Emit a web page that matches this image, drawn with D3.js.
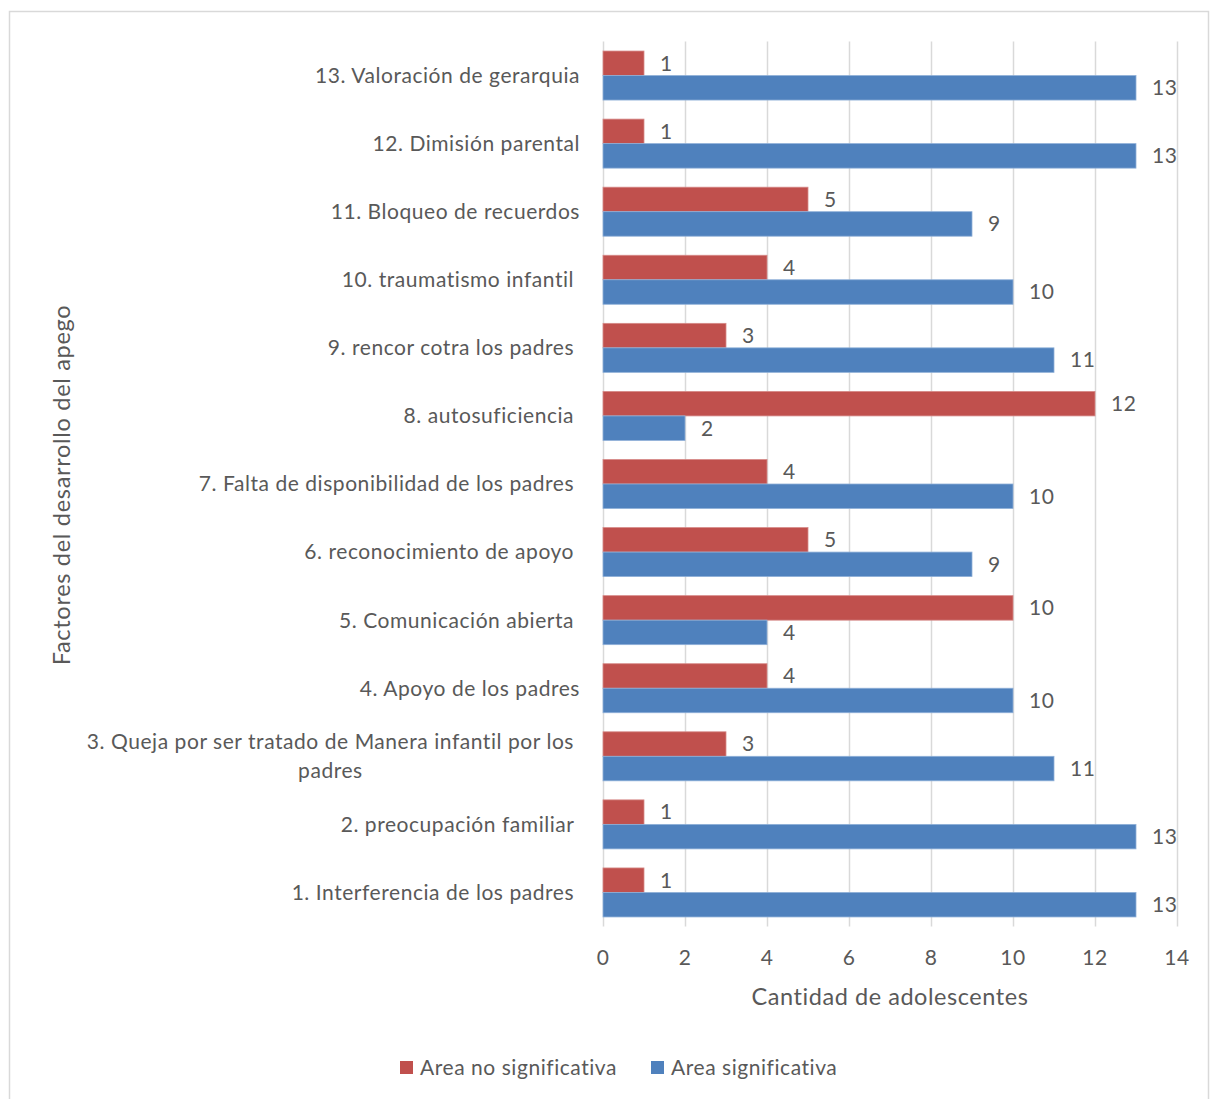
<!DOCTYPE html>
<html><head><meta charset="utf-8">
<script src="https://cdn.jsdelivr.net/npm/d3@7"></script>
<style>body{margin:0;background:#fff;} text{font-family:Lato,"Open Sans",sans-serif;fill:#595959;}</style>
</head><body>
<svg id="c" width="1210" height="1099"></svg>
<script>
const categories = [
  "1. Interferencia de los padres ",
  "2. preocupación familiar ",
  "3. Queja por ser tratado de Manera infantil por los padres ",
  "4. Apoyo de los padres",
  "5. Comunicación abierta ",
  "6. reconocimiento de apoyo ",
  "7. Falta de disponibilidad de los padres ",
  "8. autosuficiencia ",
  "9. rencor cotra los padres ",
  "10. traumatismo infantil ",
  "11. Bloqueo de recuerdos",
  "12. Dimisión parental",
  "13. Valoración de gerarquia"
];
const noSignificativa = [1, 1, 3, 4, 10, 5, 4, 12, 3, 4, 5, 1, 1];
const significativa   = [13, 13, 11, 10, 4, 9, 10, 2, 11, 10, 9, 13, 13];
const seriesNames = ["Area no significativa", "Area significativa"];
const xTicks = [0, 2, 4, 6, 8, 10, 12, 14];
const xTitle = "Cantidad de adolescentes";
const yTitle = "Factores del desarrollo del apego";
const colors = ["#C0504D", "#4F81BD"];

const LS = "0.55px";
const svg = d3.select("#c");
svg.append("rect").attr("x",9.5).attr("y",11.5).attr("width",1199).attr("height",1100)
  .attr("fill","#fff").attr("stroke","#d9d9d9").attr("stroke-width",1.5);

const x = d3.scaleLinear().domain([0,14]).range([603,1177]);
const y = d3.scaleBand().domain(categories.slice().reverse()).range([41.5,926.5])
  .paddingInner(0.28).paddingOuter(0.14);
const ys = d3.scaleBand().domain(seriesNames).range([0, y.bandwidth()]);

// gridlines
svg.append("g").selectAll("line").data(xTicks).join("line")
  .attr("x1",d=>x(d)+0.5).attr("x2",d=>x(d)+0.5)
  .attr("y1",41.5).attr("y2",926.5)
  .attr("stroke","#d9d9d9").attr("stroke-width",1.5);

const rows = categories.map((c,i)=>({c, vals:[noSignificativa[i], significativa[i]]}));
const g = svg.append("g");
rows.forEach(r=>{
  r.vals.forEach((v,j)=>{
    const yy = y(r.c) + ys(seriesNames[j]);
    g.append("rect").attr("x",x(0)).attr("y",yy)
      .attr("width",x(v)-x(0)).attr("height",ys.bandwidth())
      .attr("fill",colors[j]).attr("stroke", j===0?"#d68a88":"#8fb0d8").attr("stroke-width",0.8);
    g.append("text").attr("x",x(v)+16).attr("y",yy+ys.bandwidth()/2)
      .attr("dy","0.35em").attr("font-size",21).style("letter-spacing",LS).text(v);
  });
});

// x tick labels
svg.append("g").selectAll("text").data(xTicks).join("text")
  .attr("x",d=>x(d)).attr("y",958).attr("dy","0.35em").attr("text-anchor","middle")
  .attr("font-size",21).style("letter-spacing",LS).text(d=>d);

// category labels with wrapping
const labelRight = 580, maxW = 505;
const lg = svg.append("g");
categories.forEach(c=>{
  const cy = y(c) + y.bandwidth()/2;
  const t = lg.append("text").attr("font-size",21).style("letter-spacing",LS).style("white-space","pre");
  const words = c.split(" ");
  let lines = [], cur = "";
  const probe = t.append("tspan");
  words.forEach(w=>{
    const test = cur ? cur + " " + w : w;
    probe.text(test.trimEnd());
    if (probe.node().getComputedTextLength() > maxW && cur) { lines.push(cur); cur = w; }
    else cur = test;
  });
  lines.push(cur);
  probe.remove();
  if (lines.length === 1) {
    t.attr("x",labelRight).attr("y",cy).attr("dy","0.35em").attr("text-anchor","end").text(c);
  } else {
    const lh = 29;
    const spans = lines.map((l,i)=>t.append("tspan").text(l.trimEnd()));
    const widths = spans.map(s=>s.node().getComputedTextLength());
    const bw = d3.max(widths);
    const cx = labelRight - 6 - bw/2;
    t.attr("text-anchor","middle");
    spans.forEach((s,i)=>s.attr("x",cx).attr("y",cy + (i-(lines.length-1)/2)*lh).attr("dy","0.35em"));
  }
});

// axis titles
svg.append("text").attr("x",(x(0)+x(14))/2).attr("y",997).attr("dy","0.35em")
  .attr("text-anchor","middle").attr("font-size",23.5).style("letter-spacing",LS).text(xTitle);
svg.append("text").attr("transform","translate(62,485) rotate(-90)").attr("dy","0.35em")
  .attr("text-anchor","middle").attr("font-size",23.5).style("letter-spacing","0.7px").text(yTitle);

// legend
const legX = [400, 651];
seriesNames.forEach((s,i)=>{
  svg.append("rect").attr("x",legX[i]).attr("y",1061).attr("width",13).attr("height",13).attr("fill",colors[i]);
  svg.append("text").attr("x",legX[i]+20).attr("y",1068).attr("dy","0.35em").attr("font-size",21).style("letter-spacing",LS).text(s);
});
</script>
</body></html>
